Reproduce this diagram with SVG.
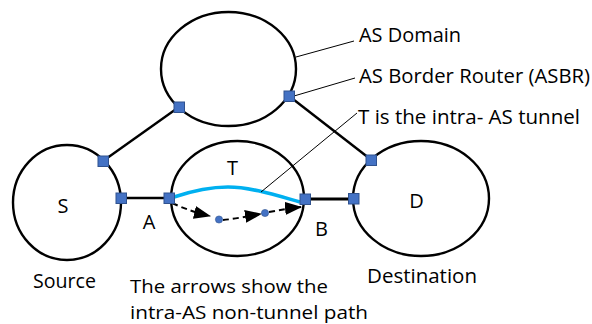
<svg xmlns="http://www.w3.org/2000/svg" width="592" height="324" viewBox="0 0 592 324">
<style>
.dom{fill:none;stroke:#000;stroke-width:2.4}
.rt{fill:#4472C4;stroke:#2F528F;stroke-width:1}
.link{stroke:#000;stroke-width:2.4;fill:none}
.lead{stroke:#000;stroke-width:1;fill:none}
.dash{stroke:#000;stroke-width:2;fill:none;stroke-dasharray:6 4}
.dot{fill:#4472C4;stroke:#2F528F;stroke-width:0.6}
text{font-family:"Open Sans","Noto Sans",sans-serif;font-size:20px;fill:#000}
.c{text-anchor:middle}
.note{font-size:19px}
</style>
<defs>
<marker id="ah" viewBox="0 0 17 13" refX="16" refY="6.5" markerWidth="17" markerHeight="13" markerUnits="userSpaceOnUse" orient="auto">
<path d="M0,0 L17,6.5 L0,13 Z" fill="#000"/>
</marker>
</defs>
<rect width="592" height="324" fill="#fff"/>
<g id="connectors">
<line class="link" x1="179" y1="107" x2="103" y2="161"/>
<line class="link" x1="289" y1="96" x2="371.5" y2="160"/>
<line class="link" x1="121" y1="198" x2="169" y2="198"/>
<line class="link" x1="305" y1="199" x2="354" y2="199" style="stroke-width:3"/>
<path d="M174,197 C195,190 210,187 228,187 C250,187 275,195 300,202" fill="none" stroke="#00B0F0" stroke-width="3.6"/>
<path class="dash" d="M172,203 C185,209 197,213 210,216" marker-end="url(#ah)"/>
<path class="dash" d="M223,220 C235,219 248,216 261,214" marker-end="url(#ah)"/>
<path class="dash" d="M269,212 C280,210 290,208 301,207" marker-end="url(#ah)"/>
<line class="lead" x1="296" y1="57" x2="354" y2="41"/>
<line class="lead" x1="294" y1="96" x2="355" y2="78"/>
<line class="lead" x1="261" y1="192" x2="357" y2="113"/>
</g>
<g id="as-domain">
<ellipse class="dom" cx="228.5" cy="69" rx="67.5" ry="57"/>
</g>
<g id="source">
<ellipse class="dom" cx="67" cy="202.5" rx="54" ry="57.5"/>
<text class="c" x="63" y="213">S</text>
</g>
<g id="transit">
<ellipse class="dom" cx="237.5" cy="198.5" rx="66.5" ry="57.5"/>
<text class="c" x="232.5" y="175">T</text>
</g>
<g id="destination">
<ellipse class="dom" cx="421" cy="198.5" rx="68" ry="57.5"/>
<text class="c" x="416.5" y="208">D</text>
</g>
<g id="routers">
<rect class="rt" x="174" y="102" width="10.5" height="10.5"/>
<rect class="rt" x="284" y="91" width="10.5" height="10.5"/>
<rect class="rt" x="98" y="156" width="10.5" height="10.5"/>
<rect class="rt" x="116" y="193" width="10.5" height="10.5"/>
<rect class="rt" x="164" y="193" width="10.5" height="10.5"/>
<rect class="rt" x="300" y="194" width="10.5" height="10.5"/>
<rect class="rt" x="348.5" y="193.5" width="10.5" height="10.5"/>
<rect class="rt" x="366" y="155" width="10.5" height="10.5"/>
<circle class="dot" cx="219" cy="219.5" r="3.6"/>
<circle class="dot" cx="265" cy="213" r="3.6"/>
</g>
<g id="labels">
<text class="c" x="149" y="229">A</text>
<text class="c" x="321.5" y="236">B</text>
<text x="33" y="288" textLength="63" lengthAdjust="spacingAndGlyphs">Source</text>
<text x="367" y="283" textLength="110" lengthAdjust="spacingAndGlyphs">Destination</text>
<text class="note" x="130" y="293" textLength="198" lengthAdjust="spacingAndGlyphs">The arrows show the</text>
<text class="note" x="130" y="319" textLength="238" lengthAdjust="spacingAndGlyphs">intra-AS non-tunnel path</text>
<text x="359" y="42" textLength="102" lengthAdjust="spacingAndGlyphs">AS Domain</text>
<text x="359" y="83" textLength="231" lengthAdjust="spacingAndGlyphs">AS Border Router (ASBR)</text>
<text x="358" y="124" textLength="222" lengthAdjust="spacingAndGlyphs">T is the intra- AS tunnel</text>
</g>
</svg>
